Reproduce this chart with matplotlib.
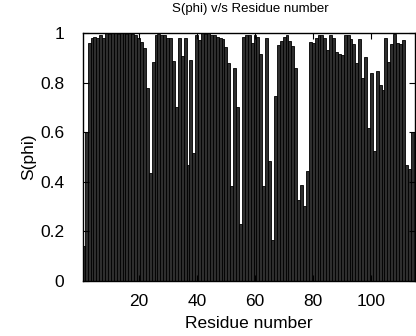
import matplotlib
matplotlib.use("Agg")
import matplotlib.pyplot as plt
import numpy as np

plt.rcParams['font.family'] = ['Liberation Sans', 'DejaVu Sans']

# S(phi) order parameter per residue
s_phi = [
    0.14, 0.60, 0.96, 0.98, 0.985, 0.98, 0.99, 0.98, 1.0, 0.995,   # 1-10
    1.0, 1.0, 0.995, 1.0, 1.0, 0.995, 1.0, 0.995, 0.99, 0.98,      # 11-20
    0.965, 0.94, 0.78, 0.435, 0.885, 0.99, 0.995, 0.99, 0.99, 0.98, # 21-30
    0.98, 0.886, 0.70, 0.98, 0.906, 0.98, 0.469, 0.892, 0.516, 0.99, # 31-40
    0.97, 1.0, 0.995, 1.0, 0.99, 0.99, 0.985, 0.98, 0.975, 0.945,   # 41-50
    0.88, 0.385, 0.858, 0.70, 0.23, 0.985, 0.99, 0.99, 0.96, 0.99,  # 51-60
    0.985, 0.915, 0.382, 0.98, 0.483, 0.167, 0.745, 0.953, 0.966, 0.985, # 61-70
    0.99, 0.966, 0.946, 0.859, 0.328, 0.388, 0.301, 0.442, 0.965, 0.96,  # 71-80
    0.98, 0.99, 0.99, 0.98, 0.933, 0.99, 0.98, 0.925, 0.915, 0.91,  # 81-90
    0.99, 0.99, 0.975, 0.955, 0.878, 0.975, 0.82, 0.905, 0.617, 0.837, # 91-100
    0.523, 0.845, 0.79, 0.77, 0.98, 0.885, 0.955, 0.995, 0.96, 0.955,  # 101-110
    0.97, 0.469, 0.45, 0.60,                                        # 111-114
]
residues = np.arange(1, len(s_phi) + 1)

x_ticks = [20, 40, 60, 80, 100]
y_ticks = [0, 0.2, 0.4, 0.6, 0.8, 1.0]
y_tick_labels = ["0", "0.2", "0.4", "0.6", "0.8", "1"]

fig = plt.figure(figsize=(4.16, 3.36), dpi=100)
ax = fig.add_axes([83/416, 55/336, 332/416, 248/336])

ax.bar(residues, s_phi, width=1.0, color='#2e2e2e', edgecolor='black',
       linewidth=0.6, align='center')

ax.set_xlim(0.9, 115)
ax.set_ylim(0, 1)
ax.set_xticks(x_ticks)
ax.set_yticks(y_ticks)
ax.set_yticklabels(y_tick_labels)
ax.tick_params(direction='in', top=True, right=True, length=4, width=0.8,
               labelsize=12.5)
ax.tick_params(axis='x', pad=9.5)
ax.tick_params(axis='y', pad=13.5)
for s in ax.spines.values():
    s.set_linewidth(1.0)

ax.set_xlabel("Residue number", fontsize=12.5, labelpad=5)
ax.set_ylabel("S(phi)", fontsize=12.5, labelpad=3)
fig.text(250/416, 1 - 9/336, "S(phi) v/s Residue number", ha='center',
         va='center', fontsize=9.5)

fig.savefig("out.png", dpi=100)
